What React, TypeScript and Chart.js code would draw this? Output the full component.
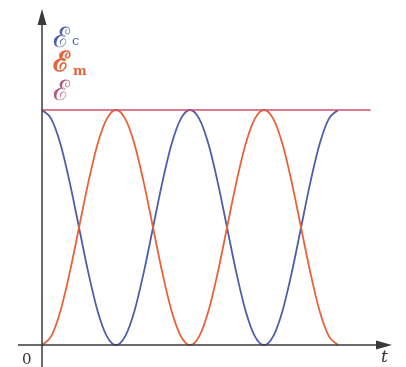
import React, { useEffect, useRef } from "react";
import { Chart, registerables } from "chart.js";

Chart.register(...registerables);

// time in units of the energy period (curves span two periods)
const tValues = [
  0, 0.0625, 0.125, 0.1875, 0.25, 0.3125, 0.375, 0.4375, 0.5,
  0.5625, 0.625, 0.6875, 0.75, 0.8125, 0.875, 0.9375, 1,
  1.0625, 1.125, 1.1875, 1.25, 1.3125, 1.375, 1.4375, 1.5,
  1.5625, 1.625, 1.6875, 1.75, 1.8125, 1.875, 1.9375, 2,
];
// energy Ec (blue), starts at maximum
const ecValues = [
  1, 0.962, 0.854, 0.691, 0.5, 0.309, 0.146, 0.038, 0,
  0.038, 0.146, 0.309, 0.5, 0.691, 0.854, 0.962, 1,
  0.962, 0.854, 0.691, 0.5, 0.309, 0.146, 0.038, 0,
  0.038, 0.146, 0.309, 0.5, 0.691, 0.854, 0.962, 1,
];
// energy Em (orange), starts at zero
const emValues = [
  0, 0.038, 0.146, 0.309, 0.5, 0.691, 0.854, 0.962, 1,
  0.962, 0.854, 0.691, 0.5, 0.309, 0.146, 0.038, 0,
  0.038, 0.146, 0.309, 0.5, 0.691, 0.854, 0.962, 1,
  0.962, 0.854, 0.691, 0.5, 0.309, 0.146, 0.038, 0,
];
// total energy E (constant)
const totalT = [0, 2.22];
const totalE = [1, 1];

const X_MIN = -0.2838;
const X_MAX = 2.459;
const Y_MIN = -0.0936;
const Y_MAX = 1.468;

const BLUE = "#4d5fa8";
const ORANGE = "#e8633a";
const PINK = "#d0506e";
const AXIS = "#3a3a3a";

const overlay = {
  id: "overlay",
  afterDraw(chart: any) {
    const { ctx, scales } = chart;
    const xs = scales.x;
    const ys = scales.y;
    const x0 = xs.getPixelForValue(0);
    const y0 = ys.getPixelForValue(0);
    ctx.save();
    ctx.strokeStyle = AXIS;
    ctx.fillStyle = AXIS;
    ctx.lineWidth = 1.5;
    // y axis
    ctx.beginPath();
    ctx.moveTo(x0, 367);
    ctx.lineTo(x0, 20);
    ctx.stroke();
    ctx.beginPath();
    ctx.moveTo(x0, 9);
    ctx.lineTo(x0 - 4.5, 25);
    ctx.lineTo(x0 + 4.5, 25);
    ctx.closePath();
    ctx.fill();
    // x axis
    ctx.beginPath();
    ctx.moveTo(18, y0);
    ctx.lineTo(380, y0);
    ctx.stroke();
    ctx.beginPath();
    ctx.moveTo(392, y0);
    ctx.lineTo(376, y0 - 4.5);
    ctx.lineTo(376, y0 + 4.5);
    ctx.closePath();
    ctx.fill();
    // labels
    ctx.textBaseline = "alphabetic";
    ctx.fillStyle = "#333";
    ctx.font = "15px 'DejaVu Serif'";
    ctx.fillText("0", 22, 364);
    ctx.font = "italic 17px 'DejaVu Serif'";
    ctx.fillText("t", 381, 362);
    ctx.font = "28px 'DejaVu Serif'";
    ctx.fillStyle = BLUE;
    ctx.fillText("\u2130", 53, 47);
    ctx.font = "13px 'DejaVu Serif'";
    ctx.fillText("c", 72, 45);
    ctx.font = "bold 28px 'DejaVu Serif'";
    ctx.fillStyle = ORANGE;
    ctx.fillText("\u2130", 53, 71);
    ctx.font = "bold 13px 'DejaVu Serif'";
    ctx.fillText("m", 73, 75);
    ctx.font = "28px 'DejaVu Serif'";
    ctx.fillStyle = "#b05a80";
    ctx.fillText("\u2130", 53, 100);
    ctx.restore();
  },
};

export default function App() {
  const ref = useRef<HTMLCanvasElement>(null);
  useEffect(() => {
    if (!ref.current) return;
    const chart = new Chart(ref.current, {
      type: "line",
      data: {
        datasets: [
          {
            label: "E",
            data: totalT.map((t, i) => ({ x: t, y: totalE[i] })),
            borderColor: PINK,
            borderWidth: 1.6,
            pointRadius: 0,
          },
          {
            label: "Em",
            data: tValues.map((t, i) => ({ x: t, y: emValues[i] })),
            borderColor: ORANGE,
            borderWidth: 1.8,
            pointRadius: 0,
            cubicInterpolationMode: "monotone",
          },
          {
            label: "Ec",
            data: tValues.map((t, i) => ({ x: t, y: ecValues[i] })),
            borderColor: BLUE,
            borderWidth: 1.8,
            pointRadius: 0,
            cubicInterpolationMode: "monotone",
          },
        ],
      },
      options: {
        animation: false,
        responsive: false,
        maintainAspectRatio: false,
        layout: { padding: 0 },
        plugins: { legend: { display: false }, tooltip: { enabled: false } },
        scales: {
          x: { type: "linear", min: X_MIN, max: X_MAX, display: false },
          y: { type: "linear", min: Y_MIN, max: Y_MAX, display: false },
        },
      },
      plugins: [overlay],
    });
    return () => chart.destroy();
  }, []);
  return (
    <div style={{ position: "fixed", left: 0, top: 0, width: 406, height: 367, background: "#fff" }}>
      <canvas ref={ref} width={406} height={367} style={{ display: "block" }} />
    </div>
  );
}
